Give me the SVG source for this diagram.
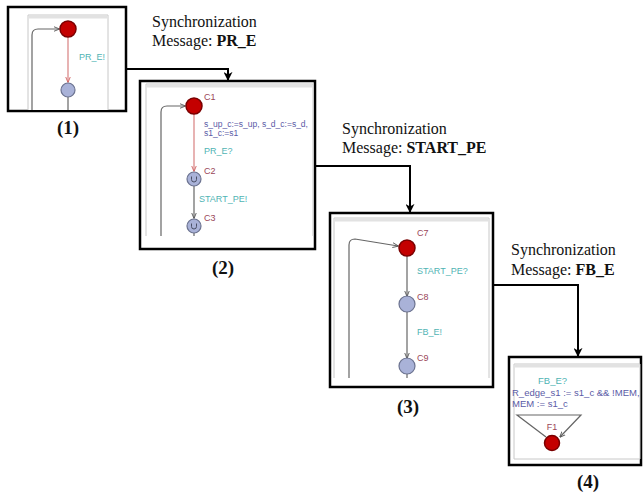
<svg xmlns="http://www.w3.org/2000/svg" width="643" height="492" viewBox="0 0 643 492">
<defs>
<marker id="ab" viewBox="0 0 10 10" refX="9" refY="5" markerWidth="9" markerHeight="9" markerUnits="userSpaceOnUse" orient="auto">
<path d="M0 0 L10 5 L0 10 L3 5 Z" fill="#000"/>
</marker>
<marker id="ag" viewBox="0 0 10 10" refX="9" refY="5" markerWidth="6" markerHeight="6" markerUnits="userSpaceOnUse" orient="auto">
<path d="M0 1 L10 5 L0 9" fill="none" stroke="#555" stroke-width="1.5"/>
</marker>
<marker id="ar" viewBox="0 0 10 10" refX="9" refY="5" markerWidth="6" markerHeight="6" markerUnits="userSpaceOnUse" orient="auto">
<path d="M0 1 L10 5 L0 9" fill="none" stroke="#d06060" stroke-width="1.5"/>
</marker>
</defs>
<style>
.box{fill:#fff;stroke:#000;stroke-width:2.5}
.panel{fill:#fff;stroke:#c8c8c8;stroke-width:1}
.bar{fill:#e2e2e2}
.conn{fill:none;stroke:#000;stroke-width:2}
.eg{fill:none;stroke:#666;stroke-width:1.2}
.er{fill:none;stroke:#d88080;stroke-width:1.2}
.init{fill:#c40000;stroke:#7a0000;stroke-width:1.5}
.loc{fill:#a9b2d8;stroke:#6c7390;stroke-width:1.2}
.u{fill:none;stroke:#4a4f66;stroke-width:1}
.cap{font-family:"Liberation Serif","Times New Roman",serif;font-size:16px;fill:#111}
.num{font-family:"Liberation Serif","Times New Roman",serif;font-size:19px;font-weight:bold;fill:#111;text-anchor:middle}
.nm{font-family:"Liberation Sans",Arial,sans-serif;font-size:9px;fill:#9a4658}
.sy{font-family:"Liberation Sans",Arial,sans-serif;font-size:9px;fill:#4fb4b4}
.as{font-family:"Liberation Sans",Arial,sans-serif;font-size:8.5px;fill:#5a5aa6}
</style>

<g id="connectors">
<path class="conn" d="M126 69 H228 V80" marker-end="url(#ab)"/>
<path class="conn" d="M315 166 H410 V212" marker-end="url(#ab)"/>
<path class="conn" d="M493 285 H578 V356" marker-end="url(#ab)"/>
</g>

<g id="node1">
<rect class="box" x="8" y="7" width="118" height="104"/>
<path class="panel" d="M28 110 V15 H108 V110"/>
<rect class="bar" x="28.5" y="15.5" width="79" height="3"/>
<path class="eg" d="M32 110 V35 Q32 29 38 29 H59" marker-end="url(#ag)"/>
<path class="er" d="M68 37 V82" marker-end="url(#ar)"/>
<path class="eg" d="M68 97 V110"/>
<circle class="init" cx="68" cy="29" r="8"/>
<circle class="loc" cx="68" cy="90" r="7"/>
<text class="sy" x="79" y="60">PR_E!</text>
<text class="num" x="68" y="134">(1)</text>
</g>

<g id="node2">
<rect class="box" x="140" y="81" width="175" height="168"/>
<path class="panel" d="M146 236 V84 H313 V236"/>
<rect class="bar" x="146.5" y="84.5" width="166" height="3"/>
<path class="eg" d="M161 236 V112 Q161 106 167 106 H185" marker-end="url(#ag)"/>
<path class="er" d="M194 114 V171" marker-end="url(#ar)"/>
<path class="eg" d="M194 186 V218" marker-end="url(#ag)"/>
<path class="eg" d="M194 233 V236"/>
<circle class="init" cx="194" cy="106" r="8"/>
<circle class="loc" cx="194" cy="179" r="7"/>
<path class="u" d="M191.5 176.5 V179.5 A2.5 2.5 0 0 0 196.5 179.5 V176.5"/>
<circle class="loc" cx="194" cy="226" r="7"/>
<path class="u" d="M191.5 223.5 V226.5 A2.5 2.5 0 0 0 196.5 226.5 V223.5"/>
<text class="nm" x="204" y="100">C1</text>
<text class="as" x="204" y="127">s_up_c:=s_up, s_d_c:=s_d,</text>
<text class="as" x="204" y="136">s1_c:=s1</text>
<text class="sy" x="204" y="154">PR_E?</text>
<text class="nm" x="204" y="174">C2</text>
<text class="sy" x="199" y="202">START_PE!</text>
<text class="nm" x="204" y="221">C3</text>
<text class="num" x="223" y="274">(2)</text>
</g>

<g id="node3">
<rect class="box" x="330" y="213" width="163" height="174"/>
<path class="panel" d="M334 378 V218 H489 V378"/>
<rect class="bar" x="334.5" y="218.5" width="154" height="3"/>
<path class="eg" d="M349 378 V245 Q349 239 355 239 L398 246" marker-end="url(#ag)"/>
<path class="eg" d="M407 256 V296" marker-end="url(#ag)"/>
<path class="eg" d="M407 312 V358" marker-end="url(#ag)"/>
<path class="eg" d="M407 374 V378"/>
<circle class="init" cx="407" cy="248" r="8"/>
<circle class="loc" cx="407" cy="304" r="8"/>
<circle class="loc" cx="407" cy="366" r="8"/>
<text class="nm" x="417" y="236">C7</text>
<text class="sy" x="417" y="274">START_PE?</text>
<text class="nm" x="417" y="300">C8</text>
<text class="sy" x="417" y="335">FB_E!</text>
<text class="nm" x="417" y="361">C9</text>
<text class="num" x="408" y="413">(3)</text>
</g>

<g id="node4">
<rect class="box" x="509" y="357" width="132" height="108"/>
<path class="panel" d="M514 459 V364 H640 V459 Z"/>
<rect class="bar" x="514.5" y="364.5" width="125" height="3"/>
<path class="eg" d="M546 437 L517 415 H581 L560 437" marker-end="url(#ag)"/>
<circle class="init" cx="552" cy="443" r="7.5"/>
<text class="sy" x="538" y="384" style="font-size:9.5px">FB_E?</text>
<text class="as" x="512" y="396" style="font-size:9.5px">R_edge_s1 :=  s1_c &amp;&amp; !MEM,</text>
<text class="as" x="512" y="407" style="font-size:9.5px">MEM := s1_c</text>
<text class="nm" x="552" y="430" text-anchor="middle">F1</text>
<text class="num" x="588" y="488">(4)</text>
</g>

<g id="captions">
<text class="cap" x="152" y="27">Synchronization</text>
<text class="cap" x="152" y="46">Message: <tspan font-weight="bold">PR_E</tspan></text>
<text class="cap" x="342" y="134">Synchronization</text>
<text class="cap" x="342" y="153">Message: <tspan font-weight="bold">START_PE</tspan></text>
<text class="cap" x="511" y="255">Synchronization</text>
<text class="cap" x="511" y="275">Message: <tspan font-weight="bold">FB_E</tspan></text>
</g>
</svg>
